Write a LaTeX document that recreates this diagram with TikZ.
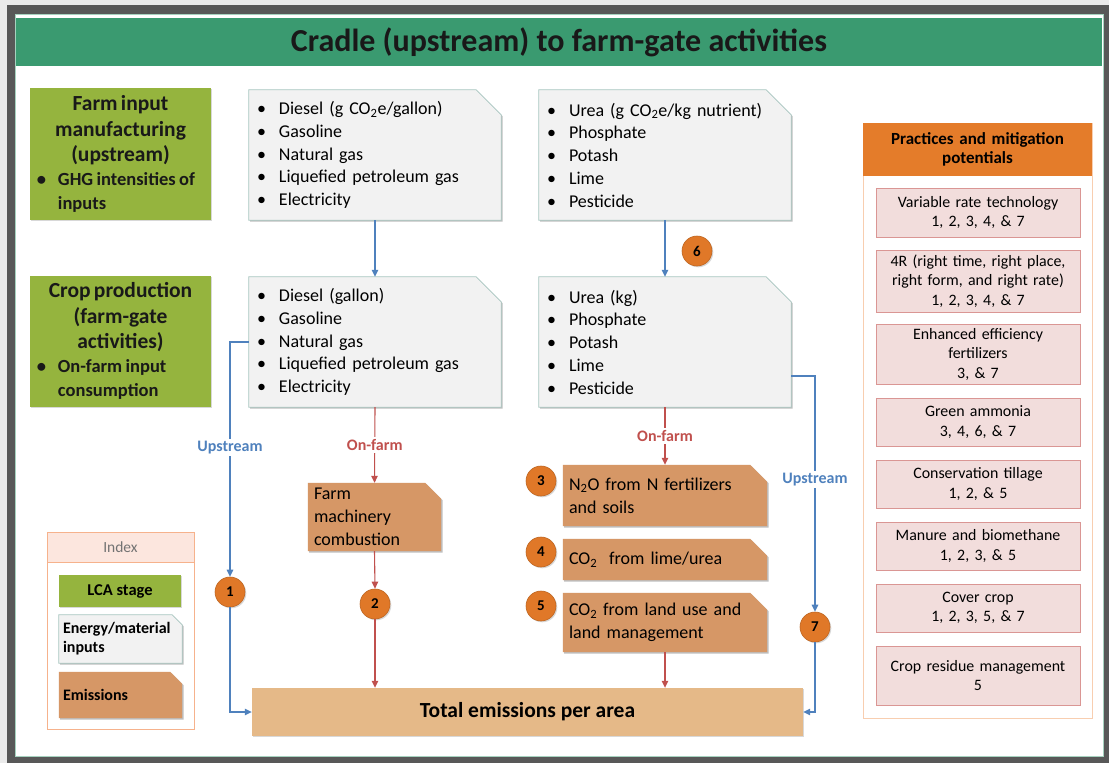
\documentclass[tikz,border=0pt]{standalone}
\usepackage{fontspec}
\setmainfont{Carlito}
\usetikzlibrary{arrows.meta,backgrounds,shadows}

\definecolor{framegray}{RGB}{88,88,88}
\definecolor{titlegreen}{RGB}{58,154,112}
\definecolor{stagegreen}{RGB}{149,180,62}
\definecolor{inputfill}{RGB}{242,242,242}
\definecolor{inputline}{RGB}{168,198,192}
\definecolor{emisfill}{RGB}{214,151,102}
\definecolor{totalfill}{RGB}{229,185,136}
\definecolor{badgefill}{RGB}{224,120,40}
\definecolor{upblue}{RGB}{79,129,189}
\definecolor{farmred}{RGB}{192,80,77}
\definecolor{indexline}{RGB}{246,178,140}
\definecolor{indexhead}{RGB}{252,230,222}
\definecolor{practorange}{RGB}{228,124,42}
\definecolor{practline}{RGB}{248,206,176}
\definecolor{itemfill}{RGB}{242,221,220}
\definecolor{itemline}{RGB}{218,150,148}

\newcommand{\itm}{\makebox[22pt][l]{\textbullet}}
\newcommand{\stagehead}[1]{{\centering\fontsize{21.5}{25.5}\selectfont #1\par}}
\newcommand{\stagebullet}[1]{{\fontsize{18.5}{24}\selectfont\leftskip=24pt\noindent\llap{\textbullet\hspace{12pt}}#1\par}}

\begin{document}
\begin{tikzpicture}[x=1pt,y=-1pt,
  shade/.style={drop shadow={shadow xshift=1.3pt,shadow yshift=-1.3pt,opacity=.3}},
  titlebar/.style={fill=titlegreen, minimum width=1086, minimum height=48, inner sep=0, font=\fontsize{32}{36}\selectfont\bfseries, text=black!90},
  stagebox/.style={fill=stagegreen, minimum width=181, minimum height=132, text width=173, inner sep=0, font=\bfseries, text=black!90, shade},
  inbox/.style={minimum width=252, minimum height=130, text width=236, inner sep=0, align=left, font=\fontsize{18}{22.75}\selectfont},
  emisbox/.style={minimum height=#1, inner sep=0, align=left, font=\fontsize{18}{23}\selectfont},
  badge/.style={circle, fill=badgefill, draw=badgefill!85!black, line width=.6pt, minimum size=30, inner sep=0, font=\fontsize{15}{15}\selectfont\bfseries, shade},
  upline/.style={draw=upblue, line width=1.1pt, -{Triangle[length=7pt,width=6.5pt]}},
  farmline/.style={draw=farmred, line width=1.1pt, -{Triangle[length=7pt,width=6.5pt]}},
  flowlabel/.style={fill=white, inner sep=2pt, font=\fontsize{16}{16}\selectfont\bfseries},
  itembox/.style={fill=itemfill, draw=itemline, line width=.8pt, minimum width=204, minimum height=#1, text width=202, inner sep=0, align=center, font=\fontsize{15.9}{19.5}\selectfont, shade},
  legtext/.style={minimum width=123, text width=115, inner sep=0, align=left, font=\fontsize{16}{19}\selectfont\bfseries}
]
\useasboundingbox (0,0) rectangle (1109,763);

% Frame
\begin{scope}[on background layer]
\fill[black!8] (0,0) rectangle (1109,763);
\fill[framegray] (7,5) rectangle (1109,763);
\filldraw[fill=white, draw=titlegreen!45, line width=.8pt] (15,14) rectangle (1103,756);
% Index panel
\node[draw=indexline, fill=white, minimum width=147, minimum height=197, shade] (index) at (120.5,630.5) {};
\node[draw=indexline, fill=indexhead, minimum width=147, minimum height=30, text=black!55, font=\fontsize{15.5}{15.5}\selectfont] (indexhd) at (120.5,547) {Index};
\end{scope}

\node[titlebar] (title) at (559,42) {Cradle (upstream) to farm-gate activities};

% LCA stages
\node[stagebox] (stagemfg) at (120.5,154) {\stagehead{Farm input\\manufacturing\\(upstream)}\stagebullet{GHG intensities of\\inputs}};
\node[stagebox, minimum height=131] (stagecrop) at (120.5,341) {\stagehead{Crop production\\(farm-gate\\activities)}\stagebullet{On-farm input\\consumption}};

% Energy and material inputs
\node[inbox] (dieselup) at (375,155) {\itm Diesel (g CO\textsubscript{2}e/gallon)\\ \itm Gasoline\\ \itm Natural gas\\ \itm Liquefied petroleum gas\\ \itm Electricity};
\node[inbox] (ureaup) at (665,155) {\itm Urea (g CO\textsubscript{2}e/kg nutrient)\\ \itm Phosphate\\ \itm Potash\\ \itm Lime\\ \itm Pesticide};
\node[inbox] (dieselon) at (375,342) {\itm Diesel (gallon)\\ \itm Gasoline\\ \itm Natural gas\\ \itm Liquefied petroleum gas\\ \itm Electricity};
\node[inbox] (ureaon) at (665,342) {\itm Urea (kg)\\ \itm Phosphate\\ \itm Potash\\ \itm Lime\\ \itm Pesticide};

% Emissions
\node[emisbox=68, minimum width=133, text width=121] (machinery) at (374.5,517) {Farm\\machinery\\combustion};
\node[emisbox=61, minimum width=204, text width=192] (nitrous) at (665,495.5) {N\textsubscript{2}O from N fertilizers\\and soils};
\node[emisbox=41, minimum width=204, text width=192] (limeurea) at (665,559.5) {CO\textsubscript{2}\ \ from lime/urea};
\node[emisbox=59, minimum width=204, text width=192] (landuse) at (665,622.5) {CO\textsubscript{2} from land use and\\land management};

\node[fill=totalfill, minimum width=551, minimum height=48, font=\fontsize{21.5}{24}\selectfont\bfseries, shade] (total) at (527.5,712) {Total emissions per area};

% Emission sources
\node[badge] (c1) at (230,592) {1};
\node[badge] (c2) at (375,604) {2};
\node[badge] (c3) at (541,481) {3};
\node[badge] (c4) at (541,552) {4};
\node[badge] (c5) at (541,606) {5};
\node[badge] (c6) at (697,251) {6};
\node[badge] (c7) at (815,627) {7};

% Flows
\draw[upline] (dieselup.south) -- (dieselon.north);
\draw[upline] (ureaup.south) -- (ureaon.north);
\draw[upline] (dieselon.west) -| node[pos=.725, flowlabel, text=upblue] {Upstream} (c1.north);
\draw[upline] (c1.south) |- (total.west);
\draw[upline] ([yshift=-34pt]ureaon.east) -| node[pos=.72, flowlabel, text=upblue] {Upstream} (c7.north);
\draw[upline] (c7.south) |- (total.east);
\draw[farmline] (dieselon.south) -- node[flowlabel, text=farmred] {On-farm} (machinery.north);
\draw[farmline] (machinery.south) -- (c2.north);
\draw[farmline] (c2.south) -- (c2.south |- total.north);
\draw[farmline] (ureaon.south) -- node[flowlabel, text=farmred] {On-farm} (nitrous.north);
\draw[farmline] (landuse.south) -- (landuse.south |- total.north);

% Index entries
\node[fill=stagegreen, minimum width=122, minimum height=32, font=\fontsize{16.5}{18}\selectfont\bfseries, shade] (legstage) at (120,591) {LCA stage};
\node[legtext, minimum height=48] (leginput) at (120.5,639) {Energy/material\\inputs};
\node[legtext, minimum height=46] (legemis) at (120.5,695) {Emissions};

% Practices and mitigation potentials
\node[draw=practline, fill=white, line width=.8pt, minimum width=229, minimum height=595, shade] (practice) at (977.5,420.5) {};
\node[fill=practorange, minimum width=229, minimum height=53, text width=224, inner sep=0, align=center, font=\fontsize{17}{19.5}\selectfont\bfseries] (practhd) at (977.5,149.5) {Practices and mitigation\\potentials};
\node[itembox=49] (vrt) at (978,212.5) {Variable rate technology\\1, 2, 3, 4, \& 7};
\node[itembox=62] (fourr) at (978,281) {4R (right time, right place,\\right form, and right rate)\\1, 2, 3, 4, \& 7};
\node[itembox=60] (eef) at (978,354) {Enhanced efficiency\\fertilizers\\3, \& 7};
\node[itembox=48] (ammonia) at (978,422) {Green ammonia\\3, 4, 6, \& 7};
\node[itembox=48] (tillage) at (978,484) {Conservation tillage\\1, 2, \& 5};
\node[itembox=48] (manure) at (978,546) {Manure and biomethane\\1, 2, 3, \& 5};
\node[itembox=48] (cover) at (978,608) {Cover crop\\1, 2, 3, 5, \& 7};
\node[itembox=59] (residue) at (978,675.5) {Crop residue management\\5};

% Snipped corners
\begin{scope}[on background layer]
\foreach \n/\s in {dieselup/25,ureaup/25,dieselon/25,ureaon/25,leginput/10} {
  \fill[black!25, transform canvas={shift={(1.3pt,-1.3pt)}}] (\n.north west) -- ([xshift=-\s pt]\n.north east) -- ([yshift=-\s pt]\n.north east) -- (\n.south east) -- (\n.south west) -- cycle;
  \filldraw[fill=inputfill, draw=inputline, line width=.8pt] (\n.north west) -- ([xshift=-\s pt]\n.north east) -- ([yshift=-\s pt]\n.north east) -- (\n.south east) -- (\n.south west) -- cycle;
}
\foreach \n/\s in {machinery/16,nitrous/17,limeurea/17,landuse/17,legemis/12} {
  \fill[black!25, transform canvas={shift={(1.3pt,-1.3pt)}}] (\n.north west) -- ([xshift=-\s pt]\n.north east) -- ([yshift=-\s pt]\n.north east) -- (\n.south east) -- (\n.south west) -- cycle;
  \fill[emisfill] (\n.north west) -- ([xshift=-\s pt]\n.north east) -- ([yshift=-\s pt]\n.north east) -- (\n.south east) -- (\n.south west) -- cycle;
}
\end{scope}
\end{tikzpicture}
\end{document}
